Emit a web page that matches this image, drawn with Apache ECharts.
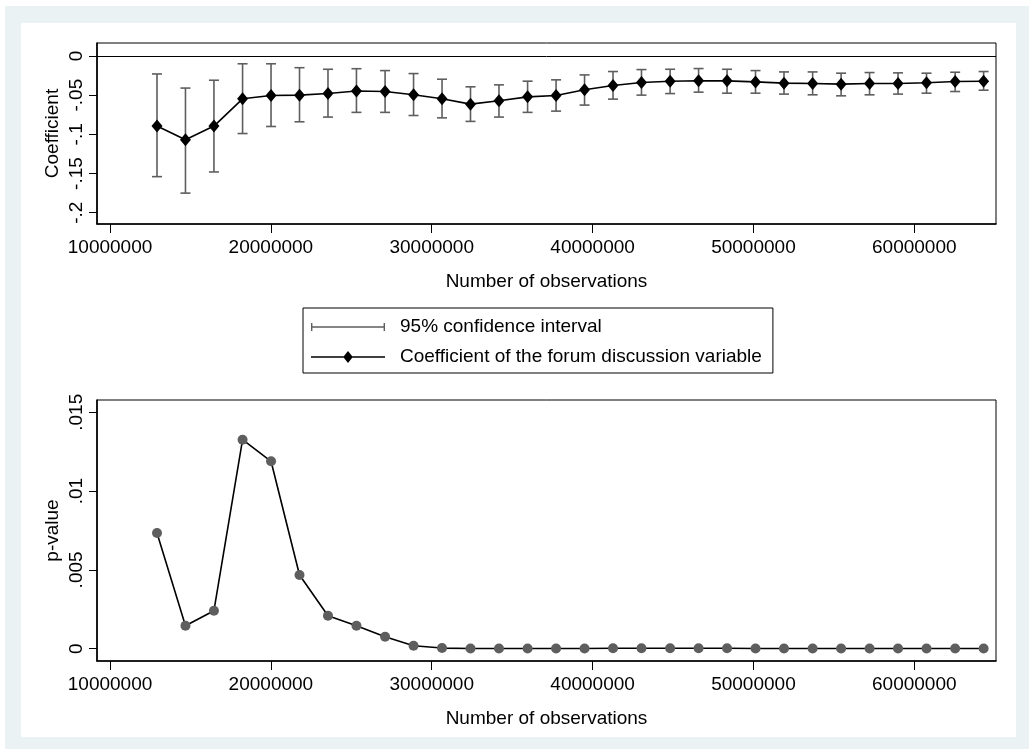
<!DOCTYPE html>
<html><head><meta charset="utf-8">
<script src="https://cdn.jsdelivr.net/npm/echarts@6/dist/echarts.min.js"></script>
<style>html,body{margin:0;padding:0;background:#fff}#c{width:1029px;height:749px}</style>
</head><body><div id="c"></div>
<script>
// ---- data ----
const observations = [12920000,14690000,16460000,18240000,20010000,21780000,23550000,25320000,27100000,28870000,
  30640000,32410000,34180000,35960000,37730000,39500000,41270000,43040000,44820000,46590000,
  48360000,50130000,51900000,53680000,55450000,57220000,58990000,60760000,62540000,64310000];
const coefficients = [-0.0895,-0.107,-0.0895,-0.0547,-0.0505,-0.0500,-0.0480,-0.0448,-0.0454,-0.0496,
  -0.0547,-0.0615,-0.0572,-0.0522,-0.0505,-0.0432,-0.0377,-0.0339,-0.0322,-0.0316,
  -0.0318,-0.0331,-0.0347,-0.0352,-0.0360,-0.0352,-0.0352,-0.0343,-0.0326,-0.0322];
const ciLower = [-0.154,-0.175,-0.148,-0.099,-0.090,-0.084,-0.078,-0.072,-0.072,-0.076,
  -0.079,-0.0835,-0.078,-0.072,-0.0704,-0.0627,-0.0551,-0.050,-0.048,-0.0462,
  -0.0475,-0.0475,-0.0487,-0.0496,-0.0509,-0.0496,-0.0487,-0.0475,-0.0454,-0.0437];
const ciUpper = [-0.023,-0.041,-0.031,-0.010,-0.010,-0.015,-0.017,-0.0163,-0.0187,-0.0225,
  -0.0297,-0.0394,-0.0369,-0.0322,-0.0305,-0.0242,-0.0199,-0.0174,-0.017,-0.0161,
  -0.017,-0.0187,-0.0204,-0.0204,-0.022,-0.0212,-0.0216,-0.022,-0.0208,-0.0199];
const pValues = [0.00734,0.00146,0.00241,0.01326,0.01189,0.00468,0.00209,0.00146,0.00076,0.00019,
  0.00004,0.00001,0.00001,0.00001,0.00001,0.00001,0.00003,0.00003,0.00003,0.00003,
  0.00003,0.00001,0.00001,0.00001,0.00001,0.00001,0.00001,0.00001,0.00001,0.00001];
const xTicks = [10000000,20000000,30000000,40000000,50000000,60000000];
const coefTicks = [-0.2,-0.15,-0.1,-0.05,0];
const pTicks = [0,0.005,0.01,0.015];
const legendNames = ['95% confidence interval','Coefficient of the forum discussion variable'];
const xTitle = 'Number of observations';

// ---- styling ----
const FONT = 'Liberation Sans, Arial, Helvetica, sans-serif';
const FS = 19;
const CI_COLOR = '#5e5e5e';
const P_COLOR = '#5e5e5e';

function stataFmt(v){
  if (Math.abs(v) < 1e-12) return '0';
  let s = String(+v.toFixed(4));
  return s.replace(/^(-?)0\./, '$1.');
}

function xAxisCfg(gridIndex){
  return {
    type:'value', gridIndex, min:9190000, max:65080000,
    axisLine:{show:true, onZero:false, lineStyle:{color:'#000', width:1.6}},
    axisTick:{show:true, length:9, lineStyle:{color:'#000', width:1}, customValues:xTicks},
    axisLabel:{show:true, margin:14, color:'#000', fontSize:FS, fontFamily:FONT, customValues:xTicks,
      formatter:v=>String(Math.round(v))},
    splitLine:{show:false},
    name:xTitle, nameLocation:'middle', nameGap:48, nameMoveOverlap:false,
    nameTextStyle:{color:'#000', fontSize:FS, fontFamily:FONT}
  };
}
function yAxisCfg(gridIndex, min, max, ticks, name, gap){
  return {
    type:'value', gridIndex, min, max,
    axisLine:{show:true, onZero:false, lineStyle:{color:'#000', width:1.6}},
    axisTick:{show:true, length:8, lineStyle:{color:'#000', width:1}, customValues:ticks},
    axisLabel:{show:true, rotate:90, margin:11, color:'#000', fontSize:FS, fontFamily:FONT, customValues:ticks,
      formatter:stataFmt},
    splitLine:{show:false},
    name, nameLocation:'middle', nameGap:gap, nameMoveOverlap:false,
    nameTextStyle:{color:'#000', fontSize:FS, fontFamily:FONT}
  };
}

const iconCI = 'path://M0,0 L1.4,0 L1.4,3.3 L72.6,3.3 L72.6,0 L74,0 L74,8 L72.6,8 L72.6,4.7 L1.4,4.7 L1.4,8 L0,8 Z';
const iconCoef = 'path://M0,5.3 L32.8,5.3 L37,0 L41.2,5.3 L74,5.3 L74,6.7 L41.2,6.7 L37,12 L32.8,6.7 L0,6.7 Z';

const chart = echarts.init(document.getElementById('c'), null, {renderer:'canvas'});
chart.setOption({
  animation:false,
  backgroundColor:'#ffffff',
  graphic:[
    {type:'rect', z:-10, silent:true, shape:{x:5, y:6, width:1024, height:743}, style:{fill:'#eaf2f3'}},
    {type:'rect', z:-9, silent:true, shape:{x:21, y:23, width:995, height:714}, style:{fill:'#ffffff'}}
  ],
  grid:[
    {left:97, top:43, right:33, height:181, show:true, borderColor:'#000', borderWidth:1, backgroundColor:'#fff'},
    {left:97, top:400, right:33, height:261, show:true, borderColor:'#000', borderWidth:1, backgroundColor:'#fff'}
  ],
  xAxis:[xAxisCfg(0), xAxisCfg(1)],
  yAxis:[
    yAxisCfg(0, -0.2144, 0.0165, coefTicks, 'Coefficient', 35),
    yAxisCfg(1, -0.00078, 0.01578, pTicks, 'p-value', 35)
  ],
  legend:{
    left:303, top:308, orient:'vertical', selectedMode:false,
    backgroundColor:'#fff', borderColor:'#000', borderWidth:1, borderRadius:0,
    padding:[8, 11, 5, 8], itemGap:8, itemWidth:74, itemHeight:12,
    textStyle:{color:'#000', fontSize:FS, fontFamily:FONT, lineHeight:22, padding:[0,0,0,10]},
    data:[
      {name:legendNames[0], icon:iconCI, itemStyle:{color:CI_COLOR}},
      {name:legendNames[1], icon:iconCoef, itemStyle:{color:'#000'}}
    ]
  },
  series:[
    {
      name:legendNames[0], type:'custom', xAxisIndex:0, yAxisIndex:0,
      itemStyle:{color:CI_COLOR},
      encode:{x:0, y:[1,2]},
      data:observations.map((x,i)=>[x, ciLower[i], ciUpper[i]]),
      renderItem:function(params, api){
        const x = api.value(0), lo = api.value(1), hi = api.value(2);
        const a = api.coord([x, lo]), b = api.coord([x, hi]);
        const w = 5;
        const st = {stroke:CI_COLOR, lineWidth:1.6, fill:null};
        return {type:'group', children:[
          {type:'line', shape:{x1:a[0], y1:a[1], x2:b[0], y2:b[1]}, style:st},
          {type:'line', shape:{x1:a[0]-w, y1:a[1], x2:a[0]+w, y2:a[1]}, style:st},
          {type:'line', shape:{x1:b[0]-w, y1:b[1], x2:b[0]+w, y2:b[1]}, style:st}
        ]};
      },
      z:2
    },
    {
      name:legendNames[1], type:'line', xAxisIndex:0, yAxisIndex:0,
      data:observations.map((x,i)=>[x, coefficients[i]]),
      symbol:'diamond', symbolSize:[11,13], showSymbol:true,
      lineStyle:{color:'#000', width:1.6}, itemStyle:{color:'#000'},
      markLine:{silent:true, symbol:['none','none'], label:{show:false},
        lineStyle:{color:'#000', width:1, type:'solid'}, data:[{yAxis:0}]},
      z:3
    },
    {
      name:'p-value', type:'line', xAxisIndex:1, yAxisIndex:1,
      data:observations.map((x,i)=>[x, pValues[i]]),
      symbol:'circle', symbolSize:10, showSymbol:true,
      lineStyle:{color:'#000', width:1.6}, itemStyle:{color:P_COLOR},
      z:3
    }
  ]
});
</script>
</body></html>
